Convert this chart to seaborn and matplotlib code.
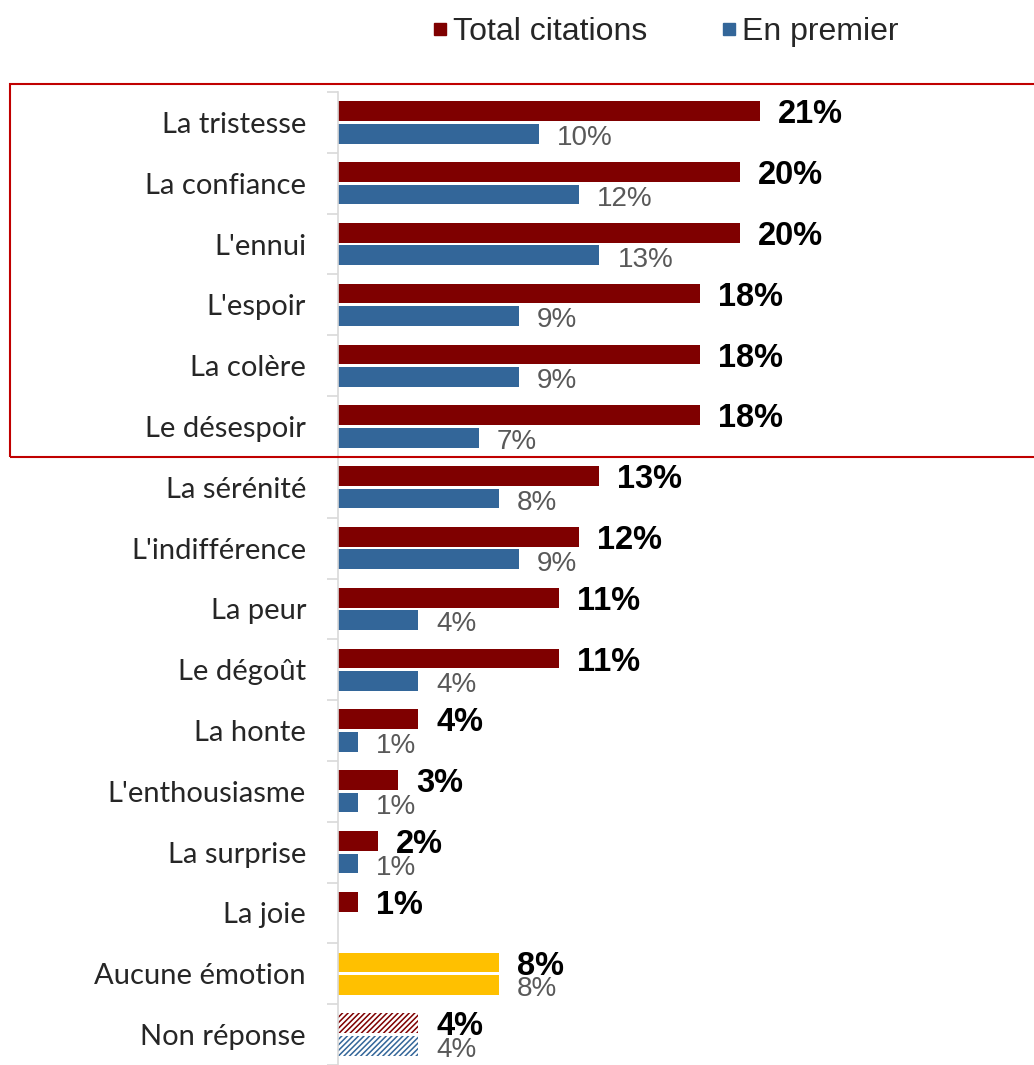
import numpy as np
import pandas as pd
import matplotlib
matplotlib.use('Agg')
import matplotlib.pyplot as plt
import seaborn as sns
from matplotlib.lines import Line2D
from matplotlib.patches import Rectangle

# Data
EMOTIONS = [
    'La tristesse', 'La confiance', "L'ennui", "L'espoir", 'La colère',
    'Le désespoir', 'La sérénité', "L'indifférence", 'La peur', 'Le dégoût',
    'La honte', "L'enthousiasme", 'La surprise', 'La joie',
    'Aucune émotion', 'Non réponse',
]
TOTAL = [21, 20, 20, 18, 18, 18, 13, 12, 11, 11, 4, 3, 2, 1, 8, 4]
PREMIER = [10, 12, 13, 9, 9, 7, 8, 9, 4, 4, 1, 1, 1, np.nan, 8, 4]
SERIES = ['Total citations', 'En premier']

RED = '#7f0000'
BLUE = '#336699'
YELLOW = '#ffc000'
GREY_TXT = '#595959'

sns.set_style('white')
plt.rcParams['font.family'] = ['Liberation Sans', 'DejaVu Sans']
plt.rcParams['hatch.linewidth'] = 1.1

df = pd.DataFrame({
    'emotion': EMOTIONS * 2,
    'serie': [SERIES[0]] * len(EMOTIONS) + [SERIES[1]] * len(EMOTIONS),
    'value': TOTAL + [0 if np.isnan(v) else v for v in PREMIER],
})

W, H = 1034, 1065
fig = plt.figure(figsize=(W / 100, H / 100), dpi=100)
ax = fig.add_axes([338 / W, 0, 1 - 338 / W, 973 / H])

sns.barplot(data=df, x='value', y='emotion', hue='serie', order=EMOTIONS,
            hue_order=SERIES, palette=[RED, BLUE], saturation=1, orient='h',
            width=0.74, gap=0.12, legend=False, ax=ax, linewidth=0)

bars_total = ax.containers[0]
bars_prem = ax.containers[1]

# Special styling: "Aucune émotion" in yellow, "Non réponse" hatched
i_aucune = EMOTIONS.index('Aucune émotion')
i_nr = EMOTIONS.index('Non réponse')
for cont in (bars_total, bars_prem):
    cont[i_aucune].set_facecolor(YELLOW)
for cont, col in ((bars_total, RED), (bars_prem, BLUE)):
    b = cont[i_nr]
    b.set_facecolor('white')
    b.set_edgecolor(col)
    b.set_hatch('//////')
    b.set_linewidth(0)

# Value labels
for i, (t, p) in enumerate(zip(TOTAL, PREMIER)):
    bt = bars_total[i]
    yc = bt.get_y() + bt.get_height() / 2 + 0.06
    ax.text(t + 0.9, yc, f'{t}%', ha='left', va='center',
            fontsize=23.5, fontweight='bold', color='black')
    if not np.isnan(p):
        bp = bars_prem[i]
        yc = bp.get_y() + bp.get_height() / 2 + 0.07
        ax.text(p + 0.9, yc, f'{int(p)}%', ha='left', va='center',
                fontsize=20, color=GREY_TXT)

ax.set_xlim(0, (W - 338) / 20.1)
ax.set_ylim(len(EMOTIONS) - 0.5, -0.5)
ax.set_xlabel('')
ax.set_ylabel('')
ax.set_xticks([])
ax.set_yticks(range(len(EMOTIONS)))
ax.set_yticklabels(EMOTIONS, fontsize=21, family=['Lato', 'DejaVu Sans'])
ax.set_yticks(np.arange(-0.5, len(EMOTIONS), 1), minor=True)
ax.tick_params(axis='y', which='major', length=0, pad=23)
ax.tick_params(axis='y', which='minor', length=8, width=1.2, color='#d9d9d9', left=True)
for s in ('top', 'right', 'bottom'):
    ax.spines[s].set_visible(False)
ax.spines['left'].set_color('#d9d9d9')
ax.spines['left'].set_linewidth(1.2)

# Legend
handles = [Line2D([], [], marker='s', linestyle='none', markersize=8,
                  markerfacecolor=c, markeredgecolor=c) for c in (RED, BLUE)]
fig.legend(handles, SERIES, loc='center', bbox_to_anchor=(0.632, 0.970),
           ncol=2, frameon=False, fontsize=23, handletextpad=-0.58,
           columnspacing=1.55)

# Red frame around the top six emotions
fig.add_artist(Rectangle((10 / W, 1 - 457 / H), (W + 10) / W, (457 - 84) / H,
                         transform=fig.transFigure, fill=False,
                         edgecolor='#c00000', linewidth=1.5, clip_on=False))

fig.savefig('out.png', dpi=100)
